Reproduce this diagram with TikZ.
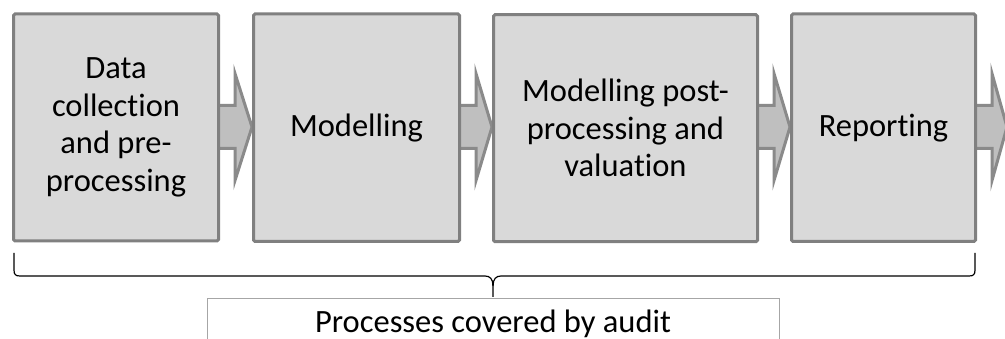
\documentclass[tikz,border=0pt]{standalone}
\usepackage{fontspec}
\setmainfont{Carlito}[Ligatures=NoCommon]
\usetikzlibrary{calc}
\definecolor{boxfill}{HTML}{D9D9D9}
\definecolor{boxline}{HTML}{808080}
\definecolor{arrfill}{HTML}{BFBFBF}
\definecolor{arrline}{HTML}{8A8A8A}
\definecolor{tbline}{HTML}{A6A6A6}
\tikzset{
  stagebox/.style={draw=boxline, fill=boxfill, line width=3pt, rounded corners=1.5pt,
    align=center, inner sep=0pt, font=\fontsize{32.5}{37.5}\selectfont},
  blockarr/.style={draw=arrline, fill=arrfill, line width=3pt, line join=miter},
  bracestyle/.style={draw=black, line width=1.2pt},
  labelbox/.style={draw=tbline, line width=1pt, fill=white},
  labeltext/.style={font=\fontsize{32.5}{37.5}\selectfont}
}
\newcommand\myblockarrow[2]{%
  \draw[blockarr] let \p1=(#1.east), \p2=#2 in
    (\x1-25pt,233.5pt) -- (\x1+15pt,233.5pt) -- (\x1+15pt,265.5pt) -- (\x2,212pt)
    -- (\x1+15pt,158.5pt) -- (\x1+15pt,190.5pt) -- (\x1-25pt,190.5pt) -- cycle;}
\begin{document}
\begin{tikzpicture}[x=1pt,y=1pt]
\useasboundingbox (0,0) rectangle (1005,339);
\clip (0,0) rectangle (1005,339);
\path (116,211.5) coordinate (c1) (356.5,211.25) coordinate (c2)
      (625.5,210.75) coordinate (c3) (883.5,211.25) coordinate (c4);
\coordinate (endc) at (1007,212);
% invisible boxes to get anchors
\node[stagebox, draw=none, fill=none, minimum width=205pt, minimum height=227pt] (b1) at (c1) {};
\node[stagebox, draw=none, fill=none, minimum width=206pt, minimum height=227.5pt] (b2) at (c2) {};
\node[stagebox, draw=none, fill=none, minimum width=264pt, minimum height=227pt] (b3) at (c3) {};
\node[stagebox, draw=none, fill=none, minimum width=184pt, minimum height=227.5pt] (b4) at (c4) {};
% arrows
\myblockarrow{b1}{(b2.west)}
\myblockarrow{b2}{(b3.west)}
\myblockarrow{b3}{(b4.west)}
\myblockarrow{b4}{(endc)}
% visible boxes
\node[stagebox, minimum width=205pt, minimum height=227pt] (s1) at (c1) {Data\\collection\\and pre-\\processing};
\node[stagebox, minimum width=206pt, minimum height=227.5pt] (s2) at (c2) {Modelling};
\node[stagebox, minimum width=264pt, minimum height=227pt] (s3) at (c3) {Modelling post-\\processing and\\valuation};
\node[stagebox, minimum width=184pt, minimum height=227.5pt] (s4) at (c4) {Reporting};
% brace
\draw[bracestyle] (14,86) -- (14,69) .. controls (14,64.5) and (15.5,63) .. (20,63)
  -- (485,63) .. controls (490,63) and (493,60) .. (493,53) -- (493,42);
\draw[bracestyle] (975,86) -- (975,69) .. controls (975,64.5) and (973.5,63) .. (969,63)
  -- (501,63) .. controls (496,63) and (493,60) .. (493,53);
% label box
\node[labelbox, minimum width=572pt, minimum height=80pt, anchor=north, inner sep=0pt] (tb) at (493,41) {};
\node[labeltext, anchor=base, inner sep=0pt] (lbl) at (493,6.5) {Processes covered by audit};
\end{tikzpicture}
\end{document}
